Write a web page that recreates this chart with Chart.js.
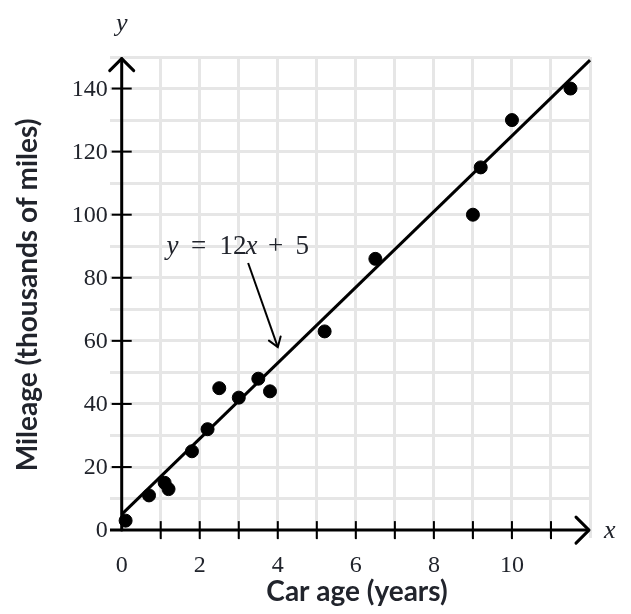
<!DOCTYPE html>
<html>
<head>
<meta charset="utf-8">
<script src="https://cdn.jsdelivr.net/npm/chart.js@4"></script>
<style>
  body { margin: 0; background: #fff; }
  canvas { display: block; }
</style>
</head>
<body>
<canvas id="chart" width="631" height="614"></canvas>
<script>
const ageYears = [0.1, 0.7, 1.1, 1.2, 1.8, 2.2, 2.5, 3, 3.5, 3.8, 5.2, 6.5, 9, 9.2, 10, 11.5];
const mileage = [3, 11, 15, 13, 25, 32, 45, 42, 48, 44, 63, 86, 100, 115, 130, 140];

const fitSlope = 12;
const fitIntercept = 5;
const fitRange = [0, 12];

const xTickLabels = [0, 2, 4, 6, 8, 10];
const yTickLabels = [0, 20, 40, 60, 80, 100, 120, 140];

const textColor = '#21242c';
const serif = '"Liberation Serif", "DejaVu Serif", serif';

const points = ageYears.map((x, i) => ({ x: x, y: mileage[i] }));
const fitLine = fitRange.map(x => ({ x: x, y: fitSlope * x + fitIntercept }));

function keepWhole(step) {
    return scale => {
        scale.ticks = scale.ticks.filter(t => Math.abs(t.value / step - Math.round(t.value / step)) < 1e-9);
    };
}

// axes with arrows, tick marks, labels and the equation callout
const decorations = {
    id: 'decorations',
    beforeDatasetsDraw(chart) {
        const ctx = chart.ctx;
        const xs = chart.scales.x, ys = chart.scales.y;
        const area = chart.chartArea;
        const x0 = xs.getPixelForValue(0), y0 = ys.getPixelForValue(0);

        ctx.save();
        ctx.strokeStyle = '#000';
        ctx.lineWidth = 3;
        ctx.lineCap = 'round';
        ctx.lineJoin = 'round';

        // y axis
        const yTip = ys.getPixelForValue(149.5);
        ctx.beginPath();
        ctx.moveTo(x0, y0);
        ctx.lineTo(x0, yTip);
        ctx.stroke();
        ctx.beginPath();
        ctx.moveTo(x0 - 12, yTip + 12);
        ctx.lineTo(x0, yTip);
        ctx.lineTo(x0 + 12, yTip + 12);
        ctx.stroke();

        // x axis
        const xTip = xs.getPixelForValue(12) - 1;
        ctx.lineCap = 'butt';
        ctx.beginPath();
        ctx.moveTo(area.left, y0);
        ctx.lineTo(xTip, y0);
        ctx.stroke();
        ctx.lineCap = 'round';
        ctx.beginPath();
        ctx.moveTo(xTip - 13, y0 - 13);
        ctx.lineTo(xTip, y0);
        ctx.lineTo(xTip - 13, y0 + 13);
        ctx.stroke();

        // tick marks
        ctx.lineWidth = 2;
        ctx.lineCap = 'butt';
        for (let v = 1; v <= 11; v++) {
            const px = xs.getPixelForValue(v);
            ctx.beginPath();
            ctx.moveTo(px, y0 - 9);
            ctx.lineTo(px, y0 + 9);
            ctx.stroke();
        }
        yTickLabels.forEach(v => {
            if (v === 0) return;
            const py = ys.getPixelForValue(v);
            ctx.beginPath();
            ctx.moveTo(x0 - 10, py);
            ctx.lineTo(x0 + 10, py);
            ctx.stroke();
        });
        ctx.restore();
    },
    afterDraw(chart) {
        const ctx = chart.ctx;
        const xs = chart.scales.x, ys = chart.scales.y;
        const x0 = xs.getPixelForValue(0), y0 = ys.getPixelForValue(0);

        ctx.save();
        ctx.fillStyle = textColor;

        // tick labels
        ctx.font = '24px ' + serif;
        ctx.textAlign = 'right';
        ctx.textBaseline = 'middle';
        yTickLabels.forEach(v => ctx.fillText(String(v), x0 - 14, ys.getPixelForValue(v) + 1));
        ctx.textAlign = 'center';
        xTickLabels.forEach(v => ctx.fillText(String(v), xs.getPixelForValue(v), y0 + 36));

        // axis letters
        ctx.font = 'italic 26px ' + serif;
        ctx.fillText('y', x0, 24);
        ctx.textAlign = 'left';
        ctx.fillText('x', 604, y0 + 1);

        // axis titles
        ctx.font = 'bold 28px Lato, sans-serif';
        ctx.textAlign = 'center';
        ctx.fillText('Car age (years)', 357, 592);
        ctx.save();
        ctx.translate(28, 295);
        ctx.rotate(-Math.PI / 2);
        ctx.fillText('Mileage (thousands of miles)', 0, 0);
        ctx.restore();

        // equation callout (operators centred on their slot)
        const left = xs.getPixelForValue(1.15);
        const base = ys.getPixelForValue(87.5);
        ctx.textBaseline = 'alphabetic';
        const parts = [
            ['y', 'italic ', 0, 'left'],
            ['=', '', 32, 'center'],
            ['12', '', 53, 'left'],
            ['x', 'italic ', 79, 'left'],
            ['+', '', 109, 'center'],
            ['5', '', 129, 'left']
        ];
        parts.forEach(([t, f, off, align]) => {
            ctx.font = f + '27px ' + serif;
            ctx.textAlign = align;
            ctx.fillText(t, left + off, base);
        });

        // callout arrow
        const ax = xs.getPixelForValue(3.24), ay = ys.getPixelForValue(84.7);
        const bx = xs.getPixelForValue(4.0), by = ys.getPixelForValue(58);
        ctx.strokeStyle = '#000';
        ctx.lineWidth = 2;
        ctx.beginPath();
        ctx.moveTo(ax, ay);
        ctx.lineTo(bx, by);
        ctx.stroke();
        const ang = Math.atan2(by - ay, bx - ax);
        ctx.lineCap = 'round';
        ctx.beginPath();
        ctx.moveTo(bx + 11 * Math.cos(ang + Math.PI - 0.6), by + 11 * Math.sin(ang + Math.PI - 0.6));
        ctx.lineTo(bx, by);
        ctx.lineTo(bx + 11 * Math.cos(ang + Math.PI + 0.6), by + 11 * Math.sin(ang + Math.PI + 0.6));
        ctx.stroke();
        ctx.restore();
    }
};

new Chart(document.getElementById('chart'), {
    type: 'scatter',
    data: {
        datasets: [
            {
                label: 'Cars',
                data: points,
                backgroundColor: '#000',
                borderColor: '#000',
                pointRadius: 6.5,
                pointHoverRadius: 6.5,
                clip: false
            },
            {
                type: 'line',
                label: 'y = 12x + 5',
                data: fitLine,
                borderColor: '#000',
                borderWidth: 3,
                pointRadius: 0,
                fill: false,
                clip: false
            }
        ]
    },
    options: {
        responsive: false,
        animation: false,
        layout: { padding: { left: 110, right: 41, top: 57, bottom: 76 } },
        plugins: {
            legend: { display: false },
            tooltip: { enabled: false }
        },
        scales: {
            x: {
                type: 'linear',
                min: -0.3,
                max: 12,
                afterBuildTicks: keepWhole(1),
                ticks: { display: false, stepSize: 1 },
                grid: { color: '#e6e6e6', lineWidth: 3, drawTicks: false },
                border: { display: false }
            },
            y: {
                type: 'linear',
                min: -2.5,
                max: 150,
                afterBuildTicks: keepWhole(10),
                ticks: { display: false, stepSize: 10 },
                grid: { color: '#e6e6e6', lineWidth: 3, drawTicks: false },
                border: { display: false }
            }
        }
    },
    plugins: [decorations]
});
</script>
</body>
</html>
